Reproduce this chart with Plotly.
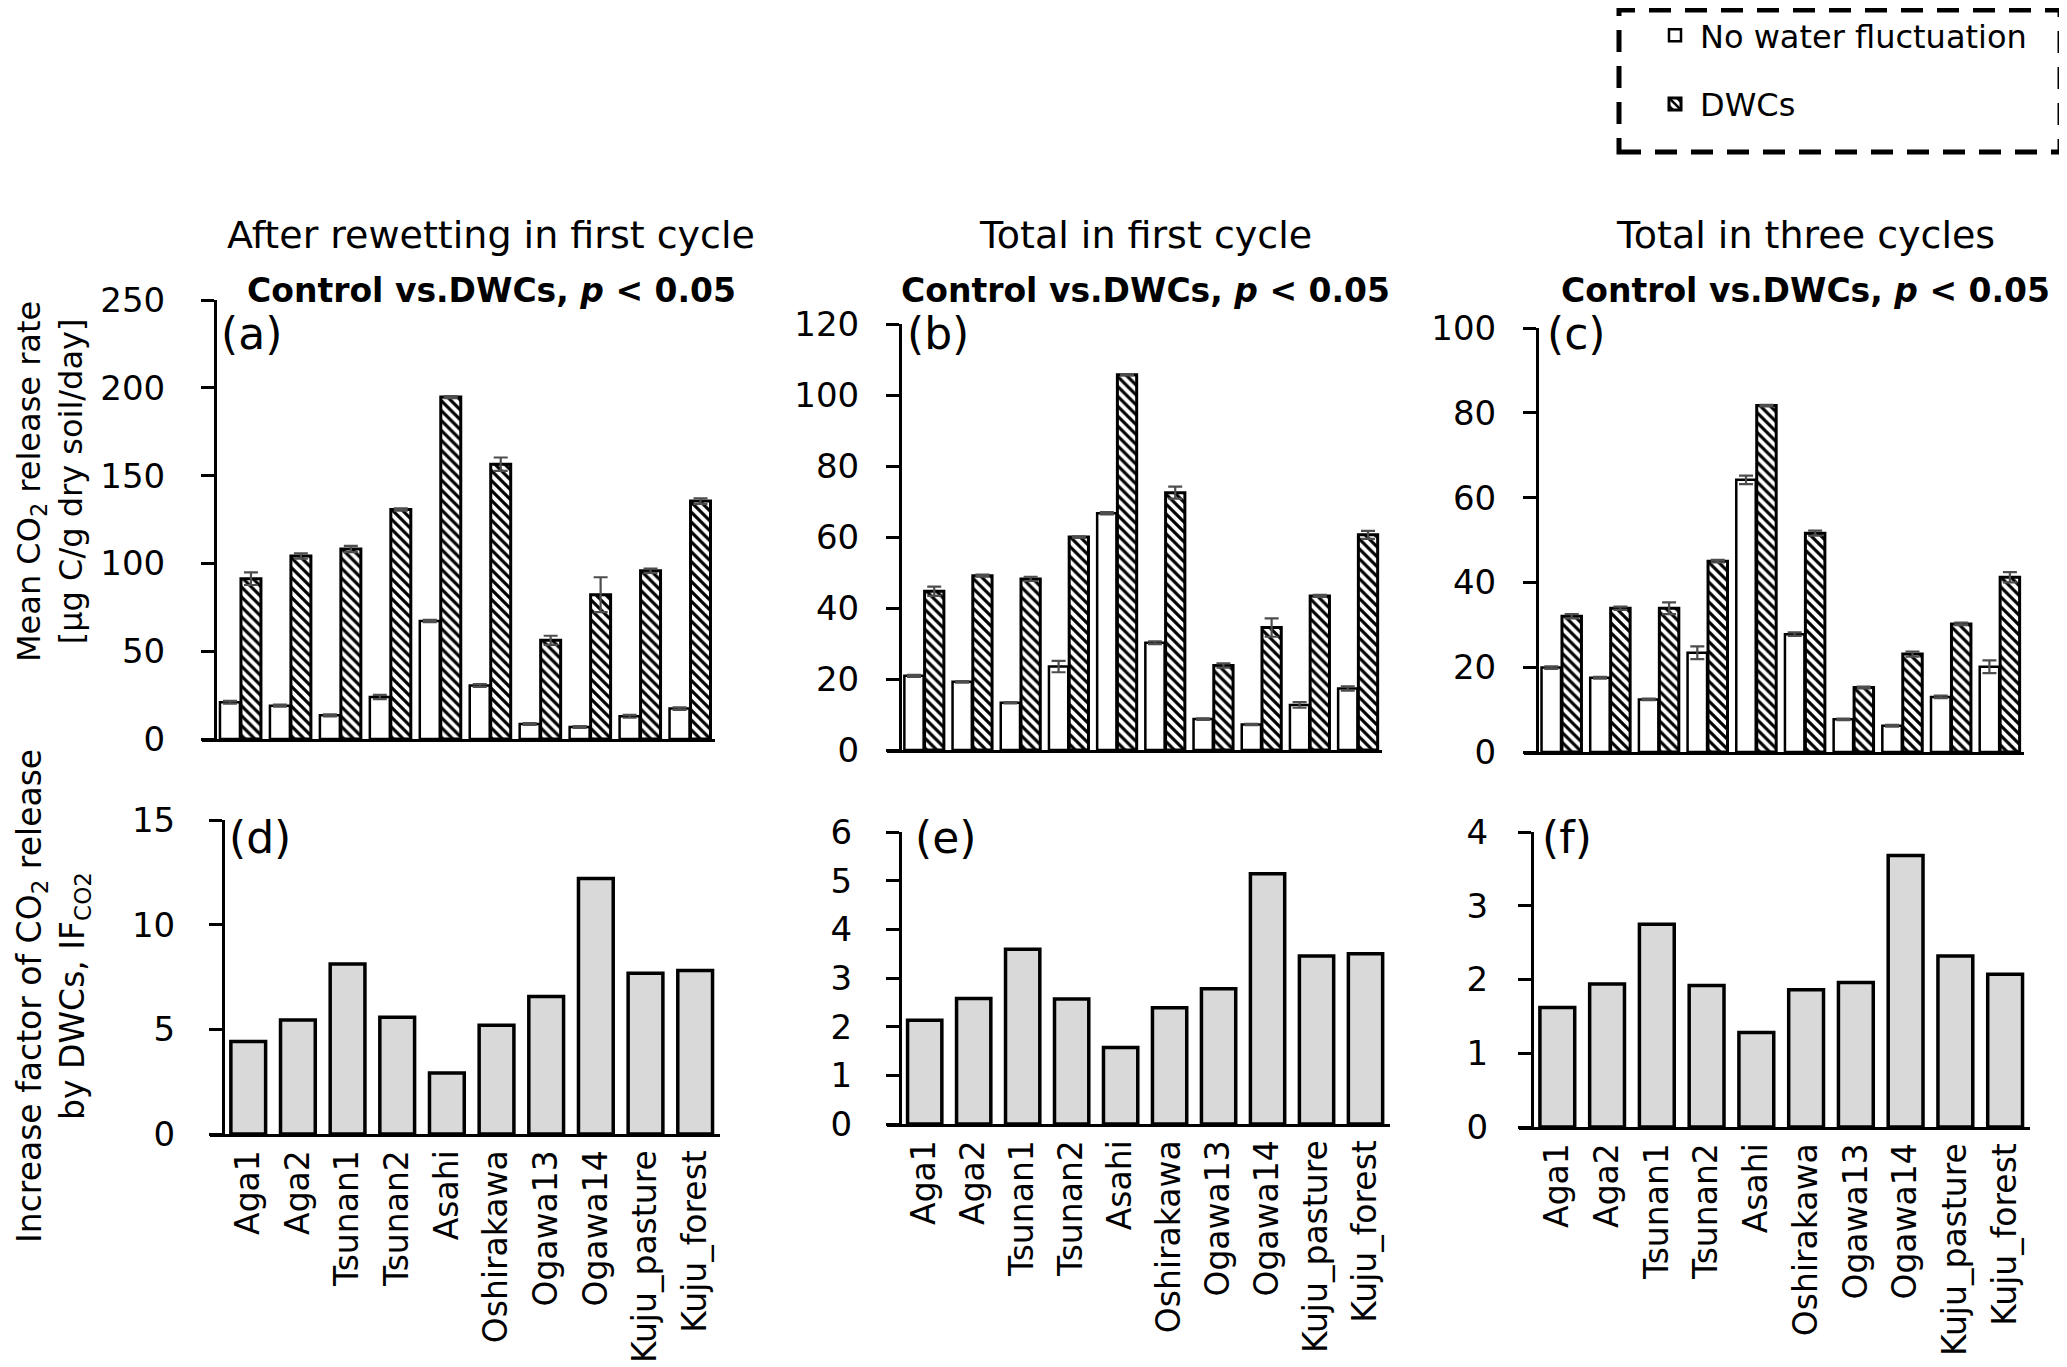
import plotly.graph_objects as go

# ---------------- data ----------------
sites = ["Aga1", "Aga2", "Tsunan1", "Tsunan2", "Asahi", "Oshirakawa",
         "Ogawa13", "Ogawa14", "Kuju_pasture", "Kuju_forest"]

# (a) After rewetting in first cycle
ctrl_a = [20.9, 19.0, 13.5, 23.9, 67.2, 30.5, 8.5, 6.8, 12.9, 17.3]
ctrl_a_err = [0.8, 0.6, 0.6, 1.2, 0.6, 0.8, 0.5, 0.5, 0.8, 0.7]
dwc_a = [91.3, 104.2, 108.2, 130.7, 194.7, 156.5, 56.2, 82.2, 95.8, 135.5]
dwc_a_err = [3.6, 1.5, 1.8, 0.6, 0.6, 3.8, 2.6, 9.9, 1.2, 1.6]

# (b) Total in first cycle
ctrl_b = [20.9, 19.2, 13.3, 23.5, 66.7, 30.2, 8.7, 7.2, 12.7, 17.3]
ctrl_b_err = [0.3, 0.2, 0.2, 1.6, 0.3, 0.4, 0.2, 0.2, 0.8, 0.6]
dwc_b = [44.7, 49.1, 48.2, 60.0, 105.7, 72.5, 23.8, 34.5, 43.4, 60.6]
dwc_b_err = [1.3, 0.3, 0.6, 0.2, 0.2, 1.7, 0.6, 2.6, 0.3, 1.1]

# (c) Total in three cycles
ctrl_c = [19.9, 17.5, 12.4, 23.4, 64.2, 27.8, 7.7, 6.2, 13.0, 20.1]
ctrl_c_err = [0.3, 0.2, 0.2, 1.5, 1.0, 0.4, 0.2, 0.2, 0.3, 1.5]
dwc_c = [32.0, 33.9, 33.9, 45.0, 81.7, 51.6, 15.2, 23.1, 30.2, 41.2]
dwc_c_err = [0.5, 0.4, 1.4, 0.3, 0.2, 0.6, 0.2, 0.6, 0.3, 1.2]

# (d)-(f) Increase factor IF_CO2
if_d = [4.42, 5.45, 8.12, 5.58, 2.91, 5.20, 6.57, 12.21, 7.68, 7.81]
if_e = [2.13, 2.58, 3.59, 2.57, 1.57, 2.39, 2.78, 5.14, 3.45, 3.50]
if_f = [1.62, 1.94, 2.75, 1.92, 1.28, 1.86, 1.96, 3.68, 2.32, 2.07]

col_titles = ["After rewetting in first cycle", "Total in first cycle", "Total in three cycles"]
panel_letters = ["(a)", "(b)", "(c)", "(d)", "(e)", "(f)"]
y_max = [250, 120, 100, 15, 6, 4]
y_step = [50, 20, 20, 5, 1, 1]

# ---------------- layout geometry (screen pixels) ----------------
W, H = 2067, 1367
OFF = 8  # page body margin
FONT = "DejaVu Sans"


def fx(x):
    return (x - OFF) / W


def fy(y):
    return 1 - (y - OFF) / H


geom = [
    dict(xd=(202, 715), yline=215, yd=(300, 739), standoff=29),
    dict(xd=(887, 1382), yline=900, yd=(324, 750), standoff=20),
    dict(xd=(1524, 2024), yline=1537, yd=(328, 752), standoff=20),
    dict(xd=(210, 720), yline=223, yd=(820, 1134), standoff=27),
    dict(xd=(887, 1390), yline=900, yd=(832, 1124), standoff=27),
    dict(xd=(1519, 2030), yline=1532, yd=(832, 1127), standoff=23),
]

fig = go.Figure()

err_style = dict(type="data", color="#4d4d4d", thickness=2.2, width=7, visible=True)
hatch = dict(shape="\\", size=7, solidity=0.45, fgcolor="black", bgcolor="white", fillmode="replace")

upper = [(ctrl_a, ctrl_a_err, dwc_a, dwc_a_err),
         (ctrl_b, ctrl_b_err, dwc_b, dwc_b_err),
         (ctrl_c, ctrl_c_err, dwc_c, dwc_c_err)]

for i, (c, ce, d, de) in enumerate(upper):
    ax = "" if i == 0 else str(i + 1)
    fig.add_trace(go.Bar(
        x=sites, y=c, name="No water fluctuation", legendgroup="ctrl",
        showlegend=(i == 0), xaxis="x" + ax, yaxis="y" + ax,
        offset=-0.41, width=0.4,
        marker=dict(color="white", line=dict(color="black", width=2.5)),
        error_y=dict(array=ce, **err_style)))
    fig.add_trace(go.Bar(
        x=sites, y=d, name="DWCs", legendgroup="dwc",
        showlegend=(i == 0), xaxis="x" + ax, yaxis="y" + ax,
        offset=0.01, width=0.4,
        marker=dict(color="white", pattern=hatch, line=dict(color="black", width=3)),
        error_y=dict(array=de, **err_style)))

for j, vals in enumerate([if_d, if_e, if_f]):
    ax = str(j + 4)
    fig.add_trace(go.Bar(
        x=sites, y=vals, name="IF", showlegend=False,
        xaxis="x" + ax, yaxis="y" + ax, width=0.7,
        marker=dict(color="#d9d9d9", line=dict(color="black", width=3.5))))

layout = dict(
    width=W, height=H, autosize=False,
    margin=dict(l=0, r=0, t=0, b=0, pad=0, autoexpand=False),
    paper_bgcolor="white", plot_bgcolor="white",
    barmode="overlay",
    font=dict(family=FONT, size=32, color="black"),
    showlegend=True,
    legend=dict(x=fx(1650), y=fy(8), xanchor="left", yanchor="top",
                bgcolor="rgba(0,0,0,0)", borderwidth=0,
                font=dict(family=FONT, size=32, color="black"),
                tracegroupgap=24, itemwidth=40, traceorder="grouped"),
)

for k, g in enumerate(geom):
    sfx = "" if k == 0 else str(k + 1)
    lower = k >= 3
    layout["xaxis" + sfx] = dict(
        domain=[fx(g["xd"][0]), fx(g["xd"][1])],
        anchor="y" + sfx, type="category", categoryorder="array", categoryarray=sites,
        range=[-0.77, 9.5], showline=True, linecolor="black", linewidth=3,
        ticks="", showgrid=False, zeroline=False, automargin=False,
        showticklabels=lower, tickangle=-90,
        tickfont=dict(family=FONT, size=33, color="black"),
        fixedrange=True)
    layout["yaxis" + sfx] = dict(
        domain=[fy(g["yd"][1]), fy(g["yd"][0])],
        anchor="free", position=fx(g["yline"]), automargin=False,
        range=[0, y_max[k]], tickmode="linear", tick0=0, dtick=y_step[k],
        showline=True, linecolor="black", linewidth=3,
        ticks="outside", ticklen=13, tickwidth=3, tickcolor="black",
        ticklabelstandoff=g["standoff"],
        tickfont=dict(family=FONT, size=34, color="black"),
        showgrid=False, zeroline=False, fixedrange=True)

annotations = []
title_x = [491, 1145, 1805]
for t, xc in zip(col_titles, title_x):
    annotations.append(dict(text=t, x=fx(xc), y=fy(235), xref="paper", yref="paper",
                            xanchor="center", yanchor="middle", showarrow=False,
                            font=dict(family=FONT, size=38, color="black")))
    annotations.append(dict(text="<b>Control vs.DWCs, <i>p</i> &lt; 0.05</b>",
                            x=fx(xc), y=fy(290), xref="paper", yref="paper",
                            xanchor="center", yanchor="middle", showarrow=False,
                            font=dict(family=FONT, size=33, color="black")))

letter_pos = [(219, 333), (905, 333), (1545, 333), (227, 838), (913, 838), (1540, 838)]
for lab, (lx, ly) in zip(panel_letters, letter_pos):
    annotations.append(dict(text=lab, x=fx(lx), y=fy(ly), xref="paper", yref="paper",
                            xanchor="left", yanchor="middle", showarrow=False,
                            font=dict(family=FONT, size=44, color="black")))

annotations.append(dict(text="Mean CO<sub>2</sub> release rate<br>[μg C/g dry soil/day]",
                        x=fx(50), y=fy(482), xref="paper", yref="paper",
                        xanchor="center", yanchor="middle", textangle=-90, showarrow=False,
                        font=dict(family=FONT, size=32, color="black")))
annotations.append(dict(text="Increase factor of CO<sub>2</sub> release<br>by DWCs, IF<sub>CO2</sub>",
                        x=fx(53), y=fy(996), xref="paper", yref="paper",
                        xanchor="center", yanchor="middle", textangle=-90, showarrow=False,
                        font=dict(family=FONT, size=33, color="black")))

layout["annotations"] = annotations
layout["shapes"] = [dict(type="rect", xref="paper", yref="paper",
                         x0=fx(1619), x1=fx(2060), y0=fy(152), y1=fy(10),
                         line=dict(color="black", width=5, dash="22px,14px"),
                         fillcolor="rgba(0,0,0,0)")]

fig.update_layout(**layout)
fig.write_html("out.html")
